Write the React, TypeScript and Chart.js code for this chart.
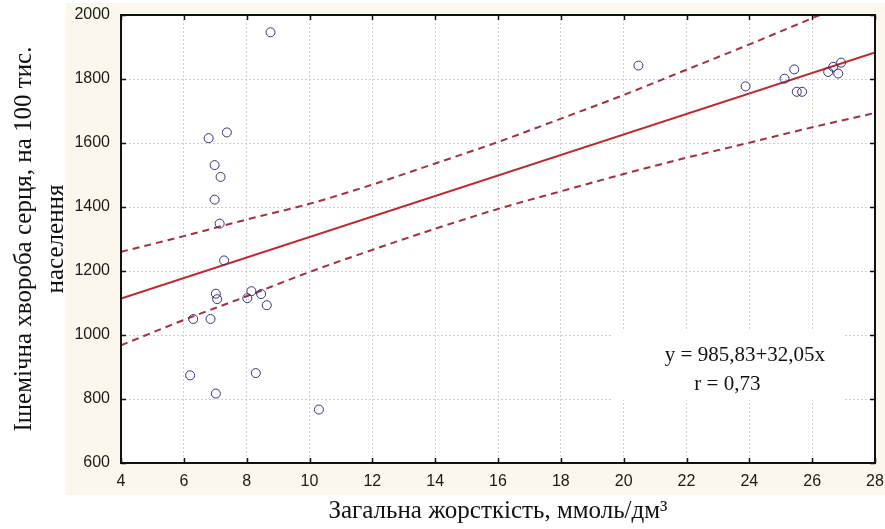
import React, { useEffect, useRef } from 'react';
import { Chart, registerables } from 'chart.js';

Chart.register(...registerables);

// Observed points
const POINT_X = [8.76, 6.79, 7.37, 6.98, 7.17, 6.98, 7.14, 7.28, 7.02, 7.06, 6.30, 6.85, 6.20, 7.02, 8.02, 8.15, 8.46, 8.64, 8.29, 10.30, 20.47, 23.88, 25.12, 25.43, 25.51, 25.68, 26.51, 26.67, 26.83, 26.92];
const POINT_Y = [1946, 1615, 1633, 1531, 1494, 1423, 1348, 1233, 1129, 1112, 1050, 1050, 874, 817, 1115, 1137, 1128, 1093, 881, 767, 1842, 1777, 1801, 1830, 1760, 1760, 1822, 1838, 1817, 1851];

// Regression line
const FIT_X = [4, 28];
const FIT_Y = [1114, 1883];

// Confidence band
const BAND_X = [4, 6, 8, 10, 12, 14, 16, 18, 20, 22, 24, 26, 28];
const BAND_UPPER = [1260, 1309, 1361, 1410, 1470, 1536, 1603, 1676, 1750, 1829, 1908, 1990, 2072];
const BAND_LOWER = [968, 1047, 1121, 1197, 1266, 1332, 1394, 1449, 1503, 1554, 1601, 1649, 1694];

// Axes
const X_MIN = 4;
const X_MAX = 28;
const X_STEP = 2;
const Y_MIN = 600;
const Y_MAX = 2000;
const Y_STEP = 200;

const X_TITLE = 'Загальна жорсткість, ммоль/дм³';
const Y_TITLE = ['Ішемічна хвороба серця, на 100 тис.', 'населення'];
const EQUATION_TEXT = 'y = 985,83+32,05x';
const R_TEXT = 'r = 0,73';

const SANS = '"Liberation Sans", Arial, sans-serif';
const SERIF = '"Liberation Serif", "Times New Roman", serif';

const framePlugin = {
  id: 'framePlugin',
  beforeDraw(chart: any) {
    const { ctx, chartArea: a } = chart;
    ctx.save();
    ctx.fillStyle = '#fcf7ec';
    ctx.fillRect(66, 3, chart.width - 66, 492);
    ctx.fillStyle = '#ffffff';
    ctx.fillRect(a.left, a.top, a.right - a.left, a.bottom - a.top);
    ctx.restore();
  },
  beforeDatasetsDraw(chart: any) {
    const { ctx } = chart;
    const xs = chart.scales.x;
    const ys = chart.scales.y;
    ctx.save();
    const l = xs.getPixelForValue(19.63);
    const r = xs.getPixelForValue(26.98);
    const t = ys.getPixelForValue(1012);
    const b = ys.getPixelForValue(796);
    ctx.fillStyle = '#ffffff';
    ctx.fillRect(l, t, r - l, b - t);
    ctx.restore();
  },
  afterDraw(chart: any) {
    const { ctx, chartArea: a } = chart;
    const xs = chart.scales.x;
    const ys = chart.scales.y;
    ctx.save();
    ctx.strokeStyle = '#111111';
    ctx.lineWidth = 2;
    ctx.strokeRect(a.left, a.top, a.right - a.left, a.bottom - a.top);
    ctx.lineWidth = 1.5;
    const tl = 5;
    ctx.beginPath();
    for (let v = X_MIN; v <= X_MAX; v += X_STEP) {
      const px = Math.round(xs.getPixelForValue(v)) + 0.5;
      ctx.moveTo(px, a.bottom);
      ctx.lineTo(px, a.bottom - tl);
      ctx.moveTo(px, a.top);
      ctx.lineTo(px, a.top + tl);
    }
    for (let v = Y_MIN; v <= Y_MAX; v += Y_STEP) {
      const py = Math.round(ys.getPixelForValue(v)) + 0.5;
      ctx.moveTo(a.left, py);
      ctx.lineTo(a.left + tl, py);
      ctx.moveTo(a.right, py);
      ctx.lineTo(a.right - tl, py);
    }
    ctx.stroke();

    ctx.fillStyle = '#111111';
    ctx.font = '21px ' + SERIF;
    ctx.textAlign = 'center';
    ctx.textBaseline = 'middle';
    ctx.fillText(EQUATION_TEXT, xs.getPixelForValue(23.86), ys.getPixelForValue(937));
    ctx.fillText(R_TEXT, xs.getPixelForValue(23.3), ys.getPixelForValue(844));
    ctx.restore();
  },
};

export default function App() {
  const canvasRef = useRef<HTMLCanvasElement | null>(null);

  useEffect(() => {
    if (!canvasRef.current) return;
    const bandColor = '#a52f3c';
    const chart = new Chart(canvasRef.current, {
      type: 'scatter',
      data: {
        datasets: [
          {
            label: 'points',
            data: POINT_X.map((x, i) => ({ x, y: POINT_Y[i] })),
            pointRadius: 4.5,
            pointBorderWidth: 1,
            pointBorderColor: '#34347a',
            pointBackgroundColor: 'rgba(0,0,0,0)',
            showLine: false,
            order: 0,
          },
          {
            label: 'fit',
            data: FIT_X.map((x, i) => ({ x, y: FIT_Y[i] })),
            showLine: true,
            pointRadius: 0,
            borderColor: '#c0272d',
            borderWidth: 2,
            order: 1,
          },
          {
            label: 'upper',
            data: BAND_X.map((x, i) => ({ x, y: BAND_UPPER[i] })),
            showLine: true,
            pointRadius: 0,
            borderColor: bandColor,
            borderWidth: 2,
            borderDash: [7, 5],
            cubicInterpolationMode: 'monotone',
            order: 1,
          },
          {
            label: 'lower',
            data: BAND_X.map((x, i) => ({ x, y: BAND_LOWER[i] })),
            showLine: true,
            pointRadius: 0,
            borderColor: bandColor,
            borderWidth: 2,
            borderDash: [7, 5],
            cubicInterpolationMode: 'monotone',
            order: 1,
          },
        ],
      },
      options: {
        animation: false,
        responsive: true,
        maintainAspectRatio: false,
        layout: { padding: { top: 15, right: 10, left: 0, bottom: 0 } },
        plugins: {
          legend: { display: false },
          tooltip: { enabled: false },
        },
        scales: {
          x: {
            type: 'linear',
            min: X_MIN,
            max: X_MAX,
            afterFit: (s: any) => { s.height = 66; s.paddingLeft = 0; s.paddingRight = 0; },
            ticks: {
              stepSize: X_STEP,
              padding: 9,
              color: '#1a1a1a',
              font: { family: SANS, size: 16 },
              callback: (v: any) => String(v),
            },
            grid: { color: '#cfcfcf', lineWidth: 1, drawTicks: false },
            border: { display: false, dash: [2, 2] },
            title: {
              display: true,
              text: X_TITLE,
              color: '#111111',
              font: { family: SERIF, size: 25, lineHeight: 1.2 },
              padding: { top: 0, bottom: 3 },
            },
          },
          y: {
            type: 'linear',
            min: Y_MIN,
            max: Y_MAX,
            afterFit: (s: any) => { s.width = 121; s.paddingTop = 0; s.paddingBottom = 0; },
            ticks: {
              stepSize: Y_STEP,
              padding: 11,
              color: '#1a1a1a',
              font: { family: SANS, size: 16 },
              callback: (v: any) => String(v),
            },
            grid: { color: '#cfcfcf', lineWidth: 1, drawTicks: false },
            border: { display: false, dash: [2, 2] },
            title: {
              display: true,
              text: Y_TITLE,
              color: '#111111',
              font: { family: SERIF, size: 25, lineHeight: 1.3 },
              padding: { top: 8, bottom: 0 },
            },
          },
        },
      },
      plugins: [framePlugin],
    } as any);
    return () => chart.destroy();
  }, []);

  return (
    <div style={{ position: 'fixed', left: 0, top: 0, width: 885, height: 529, background: '#ffffff' }}>
      <canvas ref={canvasRef} />
    </div>
  );
}
